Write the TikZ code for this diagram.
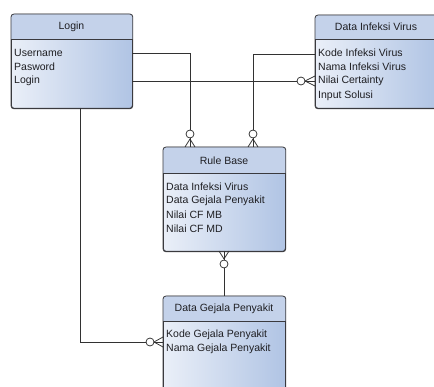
\documentclass[tikz,border=0pt]{standalone}
\usepackage{fontspec}
\setmainfont{Liberation Sans}
\usetikzlibrary{calc}
\definecolor{hdr}{RGB}{196,210,234}
\definecolor{bodyL}{RGB}{234,239,248}
\definecolor{bodyR}{RGB}{176,196,228}
\definecolor{edge}{RGB}{58,58,62}
\definecolor{txt}{RGB}{30,30,34}
\definecolor{ln}{RGB}{50,50,50}
\tikzset{
  box/.style={draw=edge, line width=0.8pt, rounded corners=3pt, left color=bodyL, right color=bodyR, inner sep=0pt, anchor=north west},
  ttl/.style={font=\fontsize{10.5}{12}\selectfont, text=txt, inner sep=0pt},
  attr/.style={font=\fontsize{10.5}{12}\selectfont, anchor=west, inner sep=0pt, text=txt},
  conn/.style={draw=ln, line width=0.75pt},
  ring/.style={circle, draw=ln, fill=white, line width=0.75pt, minimum size=8pt, inner sep=0pt},
}
\newcommand{\hdrband}[2]{%
  \begin{scope}
    \clip[rounded corners=3pt] (#1.north west) rectangle (#1.south east);
    \fill[hdr] (#1.north west) rectangle ([yshift=-#2]#1.north east);
  \end{scope}
  \draw[edge, line width=0.8pt] ([yshift=-#2]#1.north west) -- ([yshift=-#2]#1.north east);
  \draw[edge, line width=0.8pt, rounded corners=3pt] (#1.north west) rectangle (#1.south east);
}
\begin{document}
\begin{tikzpicture}[x=1pt,y=-1pt]
\useasboundingbox (0,0) rectangle (434,387);
\clip (0,0) rectangle (434,387);

% Login
\node[box, minimum width=121pt, minimum height=94pt] (login) at (11,14) {};
\hdrband{login}{25pt}
\node[ttl] (login-t) at (71.5,27) {Login};
\node[attr] (lg-user) at (14,53) {Username};
\node[attr] (lg-pass) at (14,67) {Pasword};
\node[attr] (lg-login) at (14,81) {Login};

% Data Infeksi Virus
\node[box, minimum width=122pt, minimum height=93pt] (virus) at (315,15) {};
\hdrband{virus}{24pt}
\node[ttl] (virus-t) at (376,27) {Data Infeksi Virus};
\node[attr] (dv-kode) at (318,53) {Kode Infeksi Virus};
\node[attr] (dv-nama) at (318,67) {Nama Infeksi Virus};
\node[attr] (dv-nilai) at (318,81) {Nilai Certainty};
\node[attr] (dv-input) at (318,96) {Input Solusi};

% Rule Base
\node[box, minimum width=122pt, minimum height=104pt] (rule) at (163,147) {};
\hdrband{rule}{26pt}
\node[ttl] (rule-t) at (224,161) {Rule Base};
\node[attr] (rb-1) at (166,187) {Data Infeksi Virus};
\node[attr] (rb-2) at (166,201) {Data Gejala Penyakit};
\node[attr] (rb-3) at (166,215) {Nilai CF MB};
\node[attr] (rb-4) at (166,229) {Nilai CF MD};

% Data Gejala Penyakit
\node[box, minimum width=122pt, minimum height=104pt] (gejala) at (163,296) {};
\hdrband{gejala}{25pt}
\node[ttl] (gejala-t) at (224,309) {Data Gejala Penyakit};
\node[attr] (dg-kode) at (166,335) {Kode Gejala Penyakit};
\node[attr] (dg-nama) at (166,349) {Nama Gejala Penyakit};

% connection points
\coordinate (lgR1) at (132,53);
\coordinate (lgR2) at (132,81);
\coordinate (lgB) at (80,108);
\coordinate (dvL1) at (315,54);
\coordinate (dvL2) at (315,81);
\coordinate (rbA) at (190,147);
\coordinate (rbB) at (253,147);
\coordinate (rbC) at (224,251);
\coordinate (dgT) at (224,296);
\coordinate (dgL) at (163,342);

% Login -> Rule Base
\draw[conn] (lgR1) -| (rbA);
\draw[conn] ($(rbA)+(0,-8)$) -- ($(rbA)+(-5,0)$) ($(rbA)+(0,-8)$) -- ($(rbA)+(5,0)$);
\node[ring] (ringA) at ($(rbA)+(0,-13)$) {};

% Data Infeksi Virus -> Rule Base
\draw[conn] (dvL1) -| (rbB);
\draw[conn] ($(rbB)+(0,-8)$) -- ($(rbB)+(-5,0)$) ($(rbB)+(0,-8)$) -- ($(rbB)+(5,0)$);
\node[ring] (ringB) at ($(rbB)+(0,-13)$) {};

% Login -> Data Infeksi Virus
\draw[conn] (lgR2) -- (dvL2);
\draw[conn] ($(dvL2)+(-10,0)$) -- ($(dvL2)+(0,-5)$) ($(dvL2)+(-10,0)$) -- ($(dvL2)+(0,5)$);
\node[ring] (ringC) at ($(dvL2)+(-14,0)$) {};

% Rule Base -> Data Gejala
\draw[conn] (rbC) -- (dgT);
\draw[conn] ($(rbC)+(0,8)$) -- ($(rbC)+(-5,0)$) ($(rbC)+(0,8)$) -- ($(rbC)+(5,0)$);
\node[ring] (ringD) at ($(rbC)+(0,13)$) {};

% Login -> Data Gejala
\draw[conn] (lgB) |- (dgL);
\draw[conn] ($(dgL)+(-9,0)$) -- ($(dgL)+(0,-5)$) ($(dgL)+(-9,0)$) -- ($(dgL)+(0,5)$);
\node[ring] (ringE) at ($(dgL)+(-13,0)$) {};
\end{tikzpicture}
\end{document}
